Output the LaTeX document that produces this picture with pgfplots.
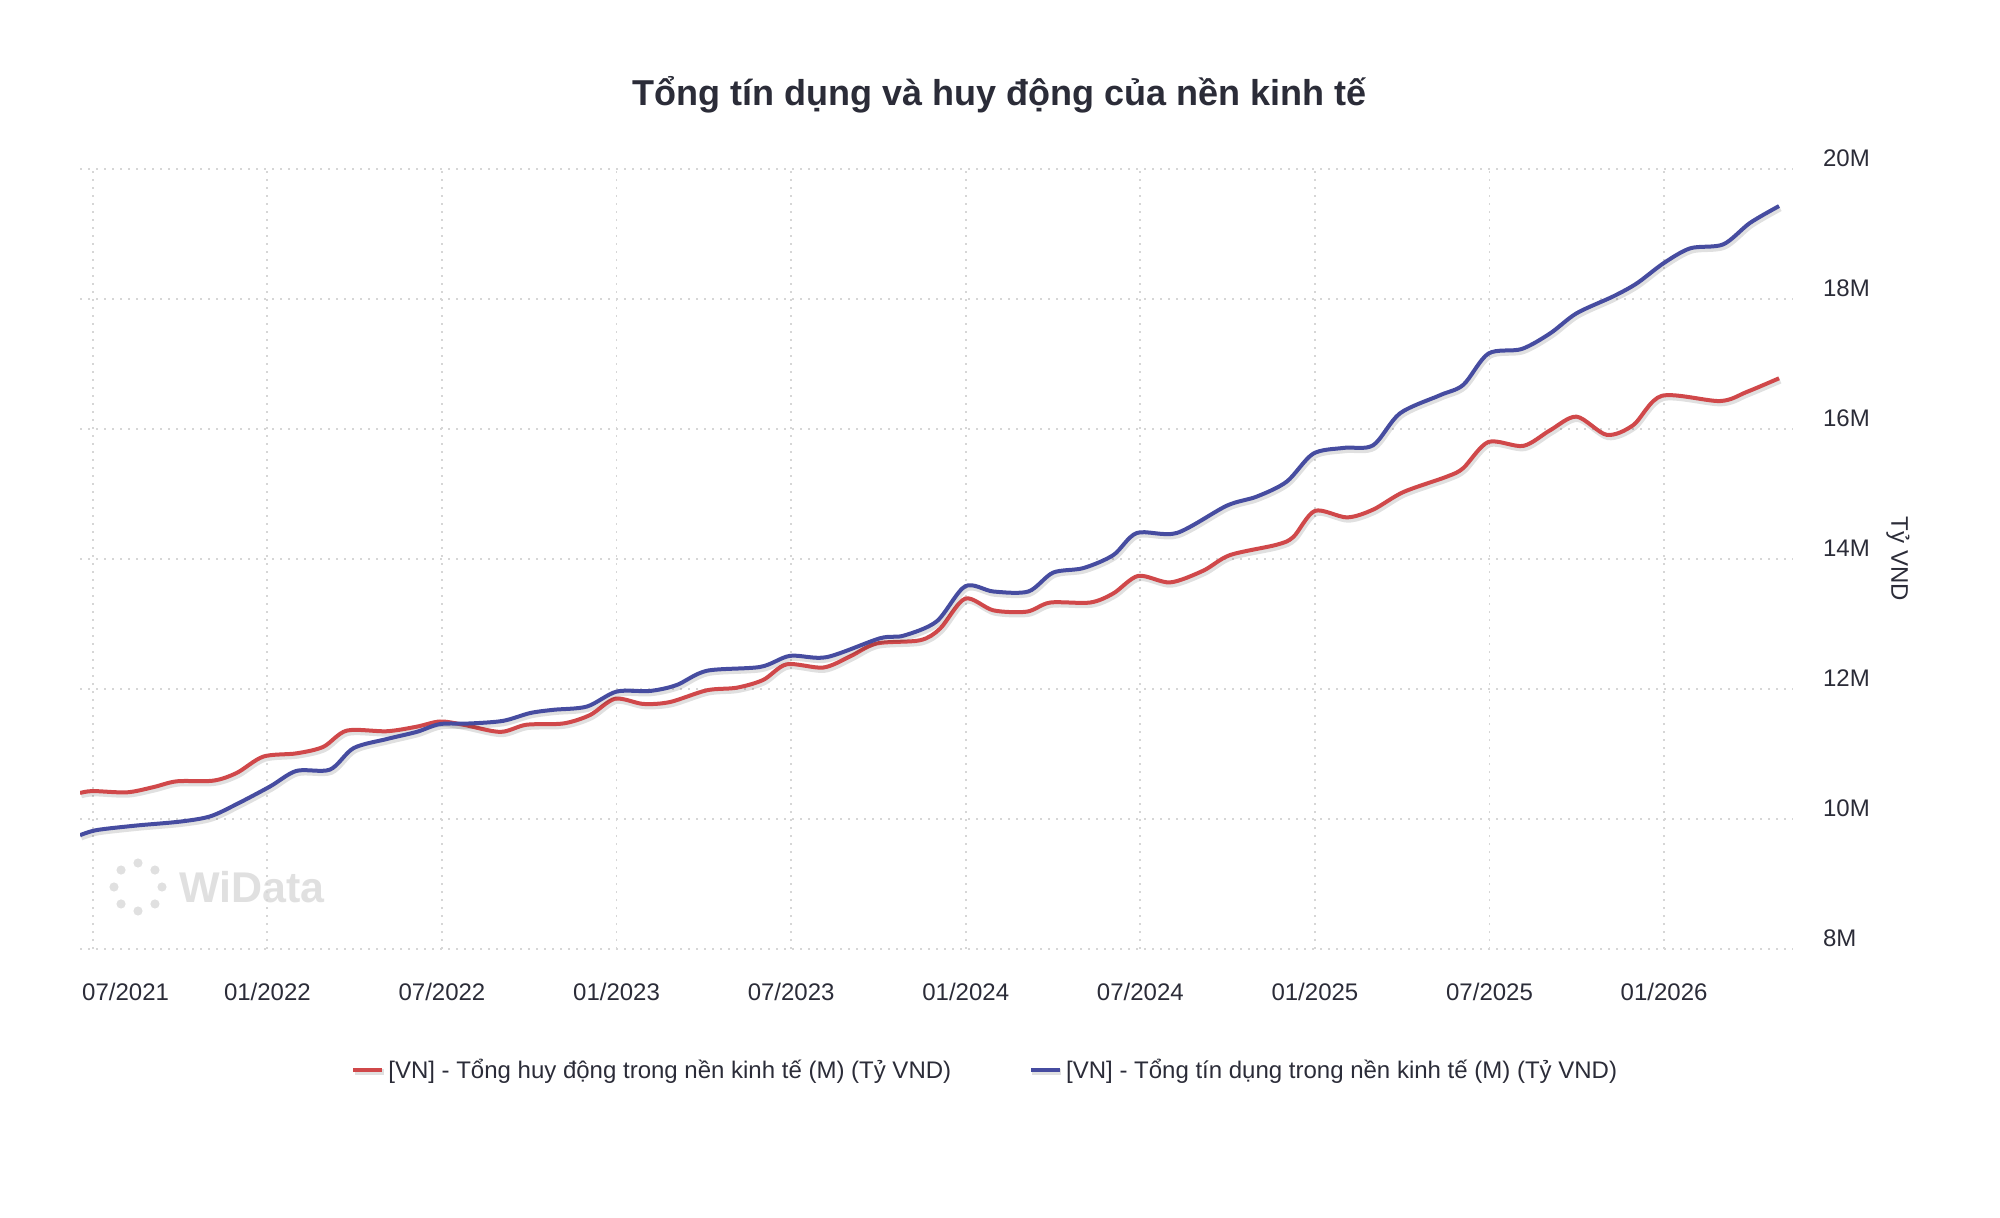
\documentclass[border=0pt]{standalone}
\usepackage{fontspec}
\setmainfont{Liberation Sans}
\usepackage{pgfplots}
\pgfplotsset{compat=1.18}
\definecolor{cred}{RGB}{208,72,74}
\definecolor{cblue}{RGB}{70,76,160}
\definecolor{ctext}{HTML}{2B2C38}
\definecolor{cgrid}{HTML}{D6D6D6}
\definecolor{cwm}{HTML}{E0E0E0}
\begin{document}
\begin{tikzpicture}
\path[use as bounding box] (-40bp,-134.5bp) rectangle (960bp,474.5bp);
% watermark
\node[text=cwm, font=\fontsize{21.5bp}{24bp}\selectfont\bfseries, anchor=center] at (86bp,31bp) {WiData};
\foreach \a in {0,45,...,315} \fill[cwm] (29bp,31bp) ++(\a:12bp) circle (2.3bp);
\begin{axis}[
  at={(0,0)}, anchor=south west,
  scale only axis, width=856.5bp, height=390bp,
  xmin=-0.44, xmax=58.43, ymin=8, ymax=20,
  axis line style={draw=none},
  major tick length=0pt,
  xtick={0,6,12,18,24,30,36,42,48,54},
  xticklabels={\makebox[0pt][l]{\hspace{-5.3bp}07/2021},01/2022,07/2022,01/2023,07/2023,01/2024,07/2024,01/2025,07/2025,01/2026},
  ytick={8,10,12,14,16,18,20},
  yticklabels={8M,10M,12M,14M,16M,18M,20M},
  ytick pos=right, yticklabel pos=right,
  grid=major,
  major grid style={cgrid, line width=0.9bp, dash pattern=on 1bp off 3bp},
  tick label style={font=\fontsize{12bp}{14bp}\selectfont, text=ctext},
  xticklabel style={anchor=center, yshift=-21.5bp},
  yticklabel style={anchor=west, xshift=11.5bp, yshift=5.5bp},
  title={Tổng tín dụng và huy động của nền kinh tế},
  title style={at={(rel axis cs:0.537,1)}, anchor=center, yshift=31bp, font=\fontsize{18bp}{22bp}\selectfont\bfseries, text=ctext},
  ylabel={Tỷ VND},
  ylabel style={at={(rel axis cs:1.0613,0.5)}, anchor=center, rotate=180, font=\fontsize{12bp}{14bp}\selectfont, text=ctext},
  legend style={at={(rel axis cs:0.529,-0.155)}, anchor=center, draw=none, fill=none, legend columns=2, font=\fontsize{12bp}{14bp}\selectfont, text=ctext, /tikz/every even column/.append style={column sep=37bp}},
  legend cell align=left,
  legend image code/.code={\draw[#1, line width=2bp] (0bp,0bp) -- (14.5bp,0bp);},
]
\addplot[cred, line width=2bp, smooth, tension=0.5, preaction={draw=black, opacity=0.12, line width=2.9bp, transform canvas={xshift=0.6bp, yshift=-1.2bp}}] coordinates {
(-0.44,10.40) (0,10.43) (1.17,10.41) (2.08,10.49) (2.89,10.58) (4.14,10.59)
(4.95,10.71) (5.86,10.96) (7.0,11.01) (7.92,11.11) (8.73,11.36) (10.1,11.35)
(11.13,11.42) (11.93,11.50) (12.74,11.45) (14.0,11.34) (14.9,11.45) (16.17,11.47)
(17.09,11.60) (17.95,11.85) (18.92,11.77) (19.84,11.80) (21.1,11.98) (22.13,12.02)
(23.04,12.14) (23.85,12.38) (25.1,12.33) (26.02,12.50) (26.94,12.70) (28.43,12.75)
(29.12,12.93) (29.98,13.39) (30.95,13.21) (32.1,13.19) (32.9,13.33) (34.27,13.33)
(35.07,13.47) (35.93,13.74) (37.02,13.64) (38.16,13.82) (39.08,14.06) (40.69,14.22)
(41.26,14.34) (42.0,14.74) (43.1,14.64) (44.0,14.76) (45.04,15.03) (46.55,15.27)
(47.1,15.40) (47.96,15.80) (49.16,15.74) (50.08,15.98) (50.99,16.19) (52.03,15.91)
(52.94,16.06) (53.92,16.51) (55.92,16.43) (56.84,16.57) (57.95,16.78)
};
\addlegendentry{[VN] - Tổng huy động trong nền kinh tế (M) (Tỷ VND)}
\addplot[cblue, line width=2bp, smooth, tension=0.5, preaction={draw=black, opacity=0.12, line width=2.9bp, transform canvas={xshift=0.6bp, yshift=-1.2bp}}] coordinates {
(-0.44,9.75) (0.14,9.83) (1.51,9.90) (3.0,9.96) (4.03,10.04) (4.95,10.23)
(6.09,10.50) (7.0,10.74) (8.15,10.76) (8.96,11.09) (10.1,11.23) (11.13,11.34)
(11.93,11.46) (12.97,11.47) (14.1,11.51) (15.03,11.63) (15.83,11.68) (16.98,11.73)
(18.0,11.96) (19.15,11.97) (20.06,12.06) (21.1,12.28) (22.94,12.34) (23.96,12.51)
(25.22,12.49) (27.05,12.78) (27.86,12.82) (29.0,13.04) (29.98,13.58) (30.95,13.50)
(32.15,13.50) (33.0,13.79) (34.04,13.86) (35.07,14.06) (35.88,14.40) (37.25,14.40)
(38.97,14.82) (40.0,14.96) (41.03,15.19) (41.94,15.62) (43.0,15.71) (44.0,15.75)
(44.92,16.24) (46.3,16.52) (47.1,16.68) (47.96,17.16) (49.1,17.23) (50.08,17.47)
(50.99,17.78) (52.25,18.04) (53.06,18.24) (53.98,18.55) (54.9,18.78) (56.03,18.84)
(56.95,19.17) (57.95,19.43)
};
\addlegendentry{[VN] - Tổng tín dụng trong nền kinh tế (M) (Tỷ VND)}
\end{axis}
\end{tikzpicture}
\end{document}
